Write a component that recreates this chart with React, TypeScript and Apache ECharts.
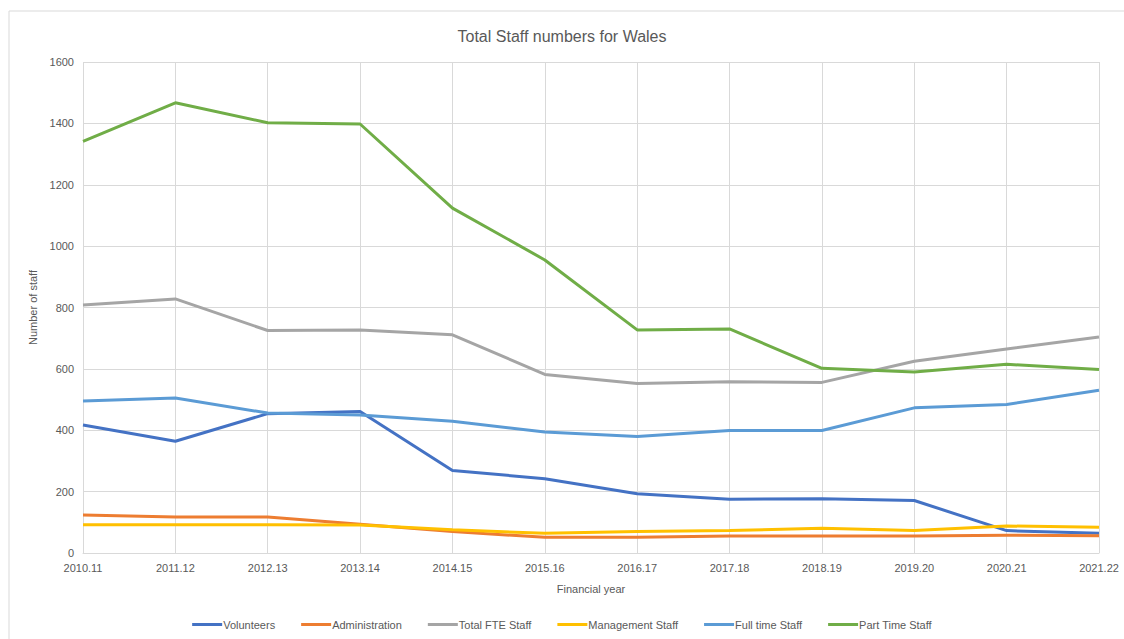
import React, { useEffect, useRef } from "react";
import * as echarts from "echarts";

const categories = ["2010.11", "2011.12", "2012.13", "2013.14", "2014.15", "2015.16", "2016.17", "2017.18", "2018.19", "2019.20", "2020.21", "2021.22"];
const volunteers = [417, 364, 454, 461, 269, 242, 193, 175, 177, 171, 73, 64];
const administration = [124, 117, 117, 94, 70, 51, 51, 55, 55, 55, 58, 56];
const totalFTE = [808, 828, 725, 727, 711, 582, 552, 558, 556, 625, 665, 704];
const management = [92, 92, 92, 91, 76, 64, 70, 73, 81, 73, 88, 84];
const fullTime = [495, 505, 456, 450, 429, 394, 380, 399, 399, 473, 484, 530];
const partTime = [1341, 1467, 1402, 1398, 1124, 955, 727, 730, 602, 590, 615, 598];
const yTicks = { min: 0, max: 1600, interval: 200 };

const seriesDefs = [
  { name: "Volunteers", data: volunteers, color: "#4472C4" },
  { name: "Administration", data: administration, color: "#ED7D31" },
  { name: "Total FTE Staff", data: totalFTE, color: "#A5A5A5" },
  { name: "Management Staff", data: management, color: "#FFC000" },
  { name: "Full time Staff", data: fullTime, color: "#5B9BD5" },
  { name: "Part Time Staff", data: partTime, color: "#70AD47" },
];

const FONT = "Liberation Sans, Arial, sans-serif";

export default function App() {
  const ref = useRef<HTMLDivElement>(null);
  useEffect(() => {
    if (!ref.current) return;
    const chart = echarts.init(ref.current, undefined, { renderer: "svg" });
    chart.setOption({
      animation: false,
      backgroundColor: "#ffffff",
      textStyle: { fontFamily: FONT },
      title: {
        text: "Total Staff numbers for Wales",
        left: "center",
        top: 23,
        textStyle: { fontSize: 16, fontWeight: "normal", color: "#595959", fontFamily: FONT },
      },
      graphic: [
        {
          type: "rect",
          shape: { x: 9, y: 11, width: 1300, height: 800 },
          style: { fill: "none", stroke: "#d9d9d9", lineWidth: 1 },
          silent: true,
          z: -1,
        },
      ],
      legend: {
        bottom: 4,
        left: "center",
        icon: "rect",
        itemWidth: 30,
        itemHeight: 3,
        itemGap: 26,
        textStyle: { fontSize: 11, color: "#595959", fontFamily: FONT, padding: [0, 0, 0, -4] },
        data: seriesDefs.map((s) => s.name),
      },
      grid: { left: 83, right: 25, top: 62, bottom: 86, containLabel: false },
      xAxis: {
        type: "category",
        data: categories,
        boundaryGap: false,
        name: "Financial year",
        nameLocation: "middle",
        nameGap: 30,
        nameTextStyle: { fontSize: 11, color: "#595959" },
        axisLine: { show: true, lineStyle: { color: "#d9d9d9", width: 1 } },
        axisTick: { show: false },
        axisLabel: { fontSize: 11, color: "#595959", margin: 9 },
        splitLine: { show: true, lineStyle: { color: "#d9d9d9", width: 1 } },
      },
      yAxis: {
        type: "value",
        min: yTicks.min,
        max: yTicks.max,
        interval: yTicks.interval,
        name: "Number of staff",
        nameLocation: "middle",
        nameGap: 43,
        nameTextStyle: { fontSize: 11, color: "#595959" },
        axisLine: { show: false },
        axisTick: { show: false },
        axisLabel: { fontSize: 11, color: "#595959", margin: 9, formatter: (v: number) => String(v) },
        splitLine: { show: true, lineStyle: { color: "#d9d9d9", width: 1 } },
      },
      series: seriesDefs.map((s) => ({
        name: s.name,
        type: "line",
        data: s.data,
        symbol: "none",
        color: s.color,
        lineStyle: { color: s.color, width: 3 },
        itemStyle: { color: s.color },
      })),
    });
    return () => chart.dispose();
  }, []);
  return (
    <div
      ref={ref}
      style={{ position: "absolute", left: 0, top: 0, width: 1124, height: 639 }}
    />
  );
}
